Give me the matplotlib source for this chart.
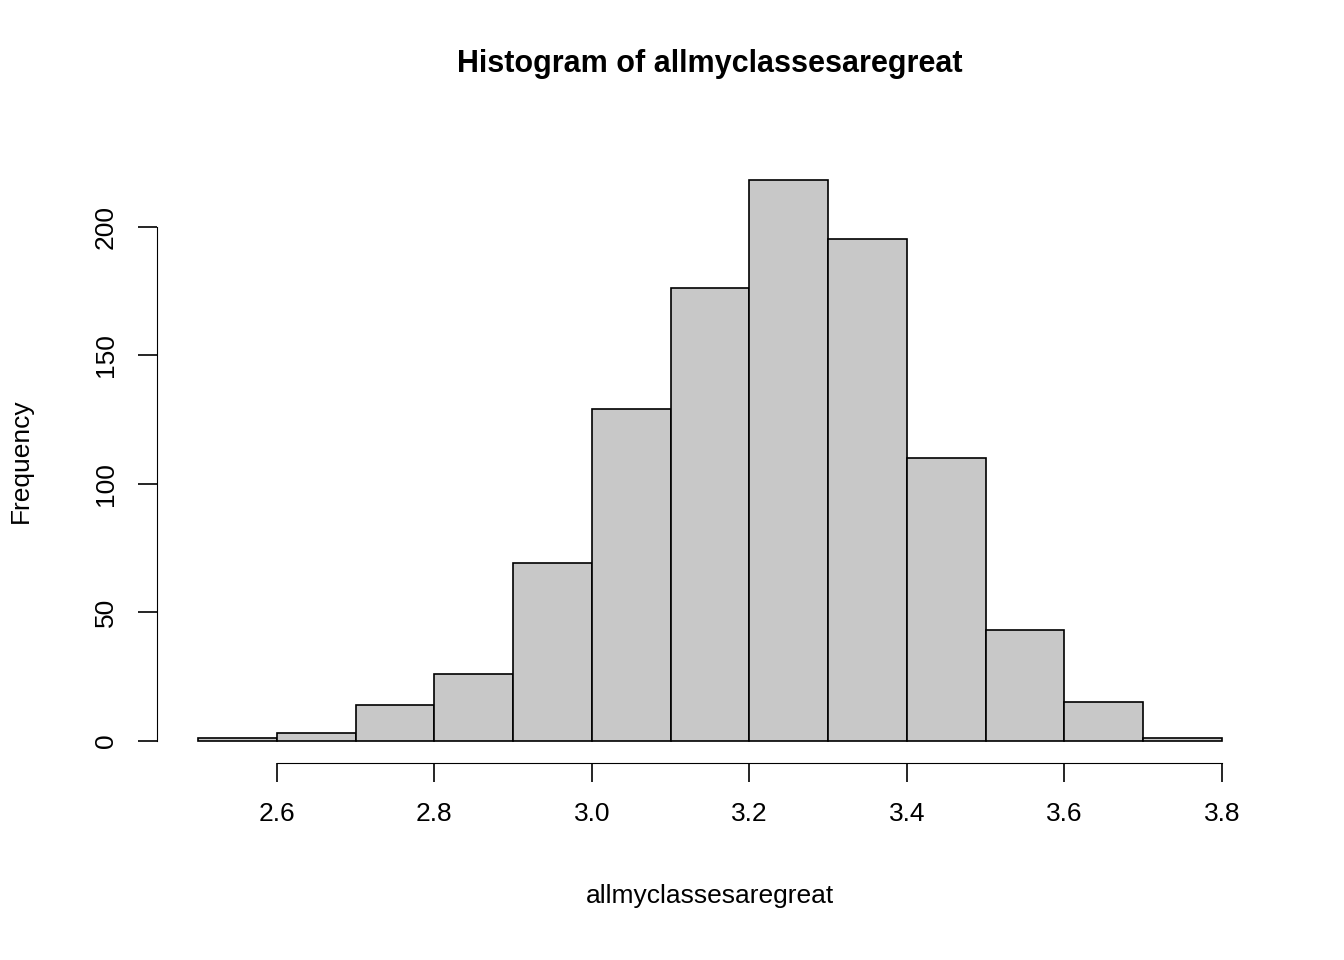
import matplotlib
matplotlib.use("Agg")
import matplotlib.pyplot as plt
import numpy as np

# bin edges and counts
edges = [2.5, 2.6, 2.7, 2.8, 2.9, 3.0, 3.1, 3.2, 3.3, 3.4, 3.5, 3.6, 3.7, 3.8]
counts = [1, 3, 14, 26, 69, 129, 176, 218, 195, 110, 43, 15, 1]
xticks = [2.6, 2.8, 3.0, 3.2, 3.4, 3.6, 3.8]
yticks = [0, 50, 100, 150, 200]

plt.rcParams['font.family'] = ['Liberation Sans', 'DejaVu Sans']

fig = plt.figure(figsize=(13.44, 9.6), dpi=100)
ax = fig.add_axes([157/1344, 1-763/960, 1106/1344, 605/960])

ax.bar(edges[:-1], counts, width=np.diff(edges), align='edge',
       color='#c8c8c8', edgecolor='black', linewidth=1.2)

ax.set_xlim(2.448, 3.852)
ax.set_ylim(-8.72, 226.7)
for s in ['top', 'right']:
    ax.spines[s].set_visible(False)
ax.spines['bottom'].set_bounds(2.6, 3.8)
ax.spines['left'].set_bounds(0, 200)
ax.set_xticks(xticks)
ax.set_xticklabels([f"{t:.1f}" for t in xticks])
ax.set_yticks(yticks)
ax.set_yticklabels([str(t) for t in yticks], rotation=90, va='center')
ax.tick_params(length=14, width=1.2, labelsize=19, pad=14)

ax.set_xlabel("allmyclassesaregreat", fontsize=19, labelpad=42)
ax.set_ylabel("Frequency", fontsize=19, labelpad=44)
ax.set_title("Histogram of allmyclassesaregreat", fontsize=22,
             fontweight='bold', pad=62)

fig.savefig("out.png", dpi=100)
